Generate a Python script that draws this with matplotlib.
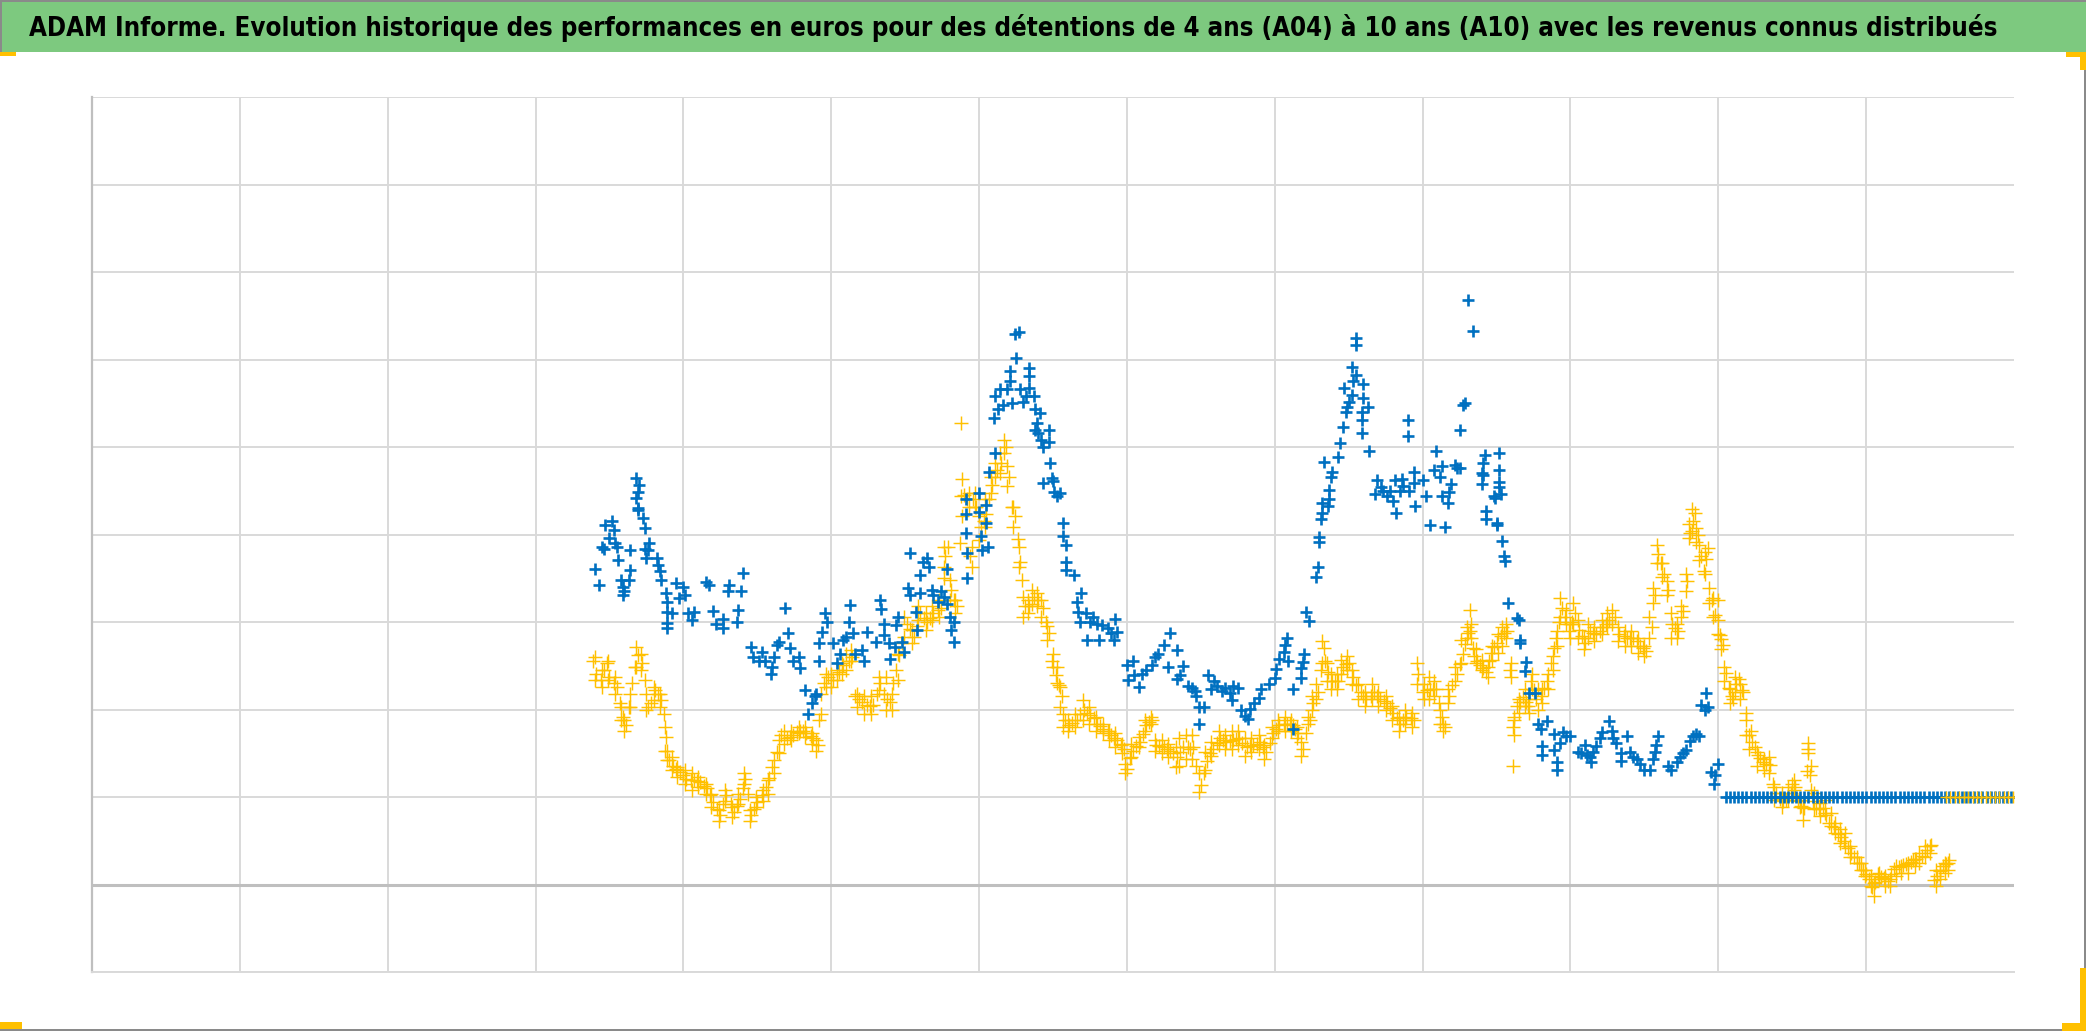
import matplotlib
matplotlib.use("Agg")
import matplotlib.pyplot as plt
from matplotlib import font_manager
from matplotlib.font_manager import FontProperties
from matplotlib.patches import Rectangle
import numpy as np

W, H = 2086, 1031

title = ("ADAM Informe. Evolution historique des performances en euros pour des "
         "détentions de 4 ans (A04) à 10 ans (A10) avec les revenus connus distribués")

# A04 (yellow): (time, performance), time = years from axis start
a04 = [
    (3.39, 2.56), (3.41, 2.41), (3.44, 2.34), (3.46, 2.45), (3.48, 2.53), (3.50, 2.37),
    (3.53, 2.30), (3.55, 2.26), (3.57, 2.07), (3.59, 1.92), (3.61, 1.82), (3.63, 2.03),
    (3.65, 2.30), (3.67, 2.49), (3.69, 2.62), (3.72, 2.53), (3.74, 2.34), (3.76, 2.03),
    (3.78, 2.07), (3.81, 2.22), (3.83, 2.18), (3.85, 2.11), (3.87, 1.95), (3.88, 1.69),
    (3.90, 1.42), (3.93, 1.36), (3.95, 1.32), (3.98, 1.29), (4.00, 1.25), (4.02, 1.21),
    (4.05, 1.20), (4.07, 1.19), (4.09, 1.18), (4.11, 1.17), (4.14, 1.13), (4.16, 1.10),
    (4.18, 1.02), (4.20, 0.94), (4.23, 0.86), (4.25, 0.79), (4.27, 0.92), (4.29, 1.02),
    (4.32, 0.92), (4.34, 0.83), (4.36, 0.90), (4.38, 0.98), (4.40, 1.10), (4.42, 1.21),
    (4.44, 1.04), (4.46, 0.79), (4.48, 0.86), (4.50, 0.94), (4.53, 1.02), (4.56, 1.11),
    (4.58, 1.22), (4.60, 1.34), (4.63, 1.52), (4.66, 1.71), (4.70, 1.67), (4.72, 1.69),
    (4.74, 1.71), (4.77, 1.74), (4.79, 1.76), (4.81, 1.75), (4.83, 1.73), (4.86, 1.70),
    (4.88, 1.67), (4.91, 1.59), (4.92, 1.88), (4.95, 2.30), (4.98, 2.37), (5.01, 2.34),
    (5.05, 2.43), (5.08, 2.51), (5.12, 2.56), (5.14, 2.60), (5.16, 2.16), (5.19, 2.12),
    (5.21, 2.09), (5.24, 2.05), (5.26, 2.04), (5.28, 2.05), (5.31, 2.18), (5.33, 2.30),
    (5.36, 2.18), (5.38, 2.12), (5.40, 2.09), (5.42, 2.30), (5.44, 2.45), (5.46, 2.62),
    (5.48, 2.76), (5.51, 2.98), (5.53, 2.92), (5.56, 2.83), (5.58, 2.95), (5.60, 3.10),
    (5.63, 3.05), (5.65, 3.00), (5.67, 3.05), (5.69, 3.10), (5.72, 3.14), (5.74, 3.16),
    (5.76, 3.50), (5.77, 3.75), (5.79, 3.86), (5.81, 3.37), (5.83, 3.25), (5.85, 3.18),
    (5.87, 3.90), (5.88, 4.44), (5.88, 5.27), (5.90, 4.45), (5.92, 4.40), (5.94, 3.75),
    (5.96, 4.40), (5.98, 4.32), (6.01, 4.09), (6.03, 4.15), (6.05, 4.24), (6.07, 4.40),
    (6.09, 4.57), (6.12, 4.74), (6.15, 4.82), (6.18, 5.00), (6.20, 4.66), (6.22, 4.32),
    (6.24, 4.21), (6.26, 3.95), (6.28, 3.69), (6.29, 3.48), (6.31, 3.18), (6.34, 3.18),
    (6.37, 3.29), (6.40, 3.25), (6.43, 3.16), (6.45, 3.00), (6.47, 2.87), (6.49, 2.56),
    (6.52, 2.39), (6.54, 2.28), (6.56, 2.15), (6.58, 1.88), (6.61, 1.82), (6.63, 1.85),
    (6.66, 1.88), (6.68, 1.95), (6.71, 1.99), (6.73, 1.96), (6.75, 1.94), (6.78, 1.90),
    (6.80, 1.84), (6.82, 1.81), (6.84, 1.78), (6.87, 1.75), (6.89, 1.71), (6.91, 1.68),
    (6.93, 1.65), (6.96, 1.60), (6.98, 1.55), (7.00, 1.32), (7.02, 1.45), (7.04, 1.53),
    (7.06, 1.58), (7.09, 1.63), (7.11, 1.72), (7.13, 1.82), (7.15, 1.86), (7.17, 1.88),
    (7.20, 1.59), (7.22, 1.58), (7.25, 1.57), (7.27, 1.55), (7.29, 1.53), (7.31, 1.50),
    (7.34, 1.46), (7.36, 1.52), (7.38, 1.57), (7.41, 1.57), (7.43, 1.55), (7.45, 1.57),
    (7.47, 1.35), (7.50, 1.14), (7.52, 1.28), (7.54, 1.41), (7.56, 1.50), (7.58, 1.55),
    (7.61, 1.62), (7.63, 1.67), (7.65, 1.65), (7.67, 1.63), (7.70, 1.64), (7.72, 1.65),
    (7.74, 1.66), (7.76, 1.67), (7.78, 1.62), (7.81, 1.57), (7.83, 1.58), (7.85, 1.59),
    (7.88, 1.61), (7.90, 1.63), (7.92, 1.57), (7.94, 1.51), (7.97, 1.62), (7.99, 1.73),
    (8.01, 1.78), (8.03, 1.82), (8.06, 1.83), (8.08, 1.84), (8.10, 1.83), (8.12, 1.82),
    (8.14, 1.78), (8.16, 1.73), (8.19, 1.55), (8.21, 1.73), (8.24, 1.88), (8.26, 2.08),
    (8.29, 2.20), (8.31, 2.45), (8.33, 2.70), (8.34, 2.55), (8.36, 2.43), (8.39, 2.33),
    (8.41, 2.33), (8.43, 2.33), (8.46, 2.49), (8.48, 2.52), (8.50, 2.53), (8.53, 2.37),
    (8.55, 2.28), (8.58, 2.20), (8.60, 2.16), (8.62, 2.12), (8.65, 2.16), (8.67, 2.20),
    (8.69, 2.16), (8.71, 2.12), (8.74, 2.10), (8.76, 2.08), (8.78, 2.02), (8.80, 1.96),
    (8.83, 1.90), (8.85, 1.84), (8.87, 1.88), (8.89, 1.92), (8.92, 1.90), (8.94, 1.88),
    (8.97, 2.41), (9.00, 2.20), (9.03, 2.22), (9.05, 2.24), (9.07, 2.24), (9.09, 2.24),
    (9.11, 2.08), (9.13, 1.92), (9.15, 1.80), (9.18, 2.16), (9.20, 2.28), (9.23, 2.41),
    (9.25, 2.52), (9.27, 2.63), (9.29, 2.75), (9.31, 2.88), (9.32, 2.90), (9.32, 3.14),
    (9.34, 2.70), (9.35, 2.61), (9.37, 2.56), (9.39, 2.51), (9.41, 2.47), (9.43, 2.43),
    (9.45, 2.55), (9.46, 2.65), (9.48, 2.71), (9.50, 2.76), (9.53, 2.84), (9.55, 2.87),
    (9.57, 2.90), (9.59, 2.45), (9.61, 1.80), (9.61, 1.35), (9.62, 1.92), (9.64, 2.04),
    (9.66, 2.09), (9.68, 2.14), (9.70, 2.09), (9.71, 2.04), (9.73, 2.33), (9.75, 2.22),
    (9.77, 2.12), (9.80, 2.16), (9.82, 2.25), (9.84, 2.33), (9.87, 2.53), (9.89, 2.70),
    (9.90, 2.82), (9.92, 3.00), (9.94, 3.16), (9.96, 3.06), (9.99, 2.90), (10.01, 3.00),
    (10.03, 3.10), (10.06, 2.91), (10.08, 2.84), (10.10, 2.76), (10.13, 2.90), (10.15, 2.88),
    (10.17, 2.86), (10.20, 2.90), (10.22, 2.94), (10.24, 2.98), (10.26, 3.02), (10.30, 3.06),
    (10.33, 2.86), (10.36, 2.84), (10.38, 2.82), (10.40, 2.82), (10.42, 2.82), (10.45, 2.78),
    (10.47, 2.73), (10.49, 2.70), (10.51, 2.67), (10.55, 2.94), (10.57, 3.31), (10.59, 3.78),
    (10.61, 3.68), (10.63, 3.55), (10.66, 3.37), (10.69, 2.98), (10.71, 2.93), (10.73, 2.90),
    (10.76, 3.13), (10.79, 3.47), (10.81, 4.02), (10.83, 4.16), (10.84, 4.25), (10.86, 4.00),
    (10.88, 3.75), (10.90, 3.58), (10.92, 3.72), (10.93, 3.85), (10.96, 3.25), (10.98, 3.08),
    (11.00, 3.25), (11.01, 2.85), (11.03, 2.74), (11.05, 2.42), (11.07, 2.25), (11.09, 2.16),
    (11.10, 2.12), (11.12, 2.29), (11.14, 2.35), (11.16, 2.22), (11.17, 2.20), (11.19, 1.88),
    (11.22, 1.75), (11.23, 1.63), (11.25, 1.57), (11.27, 1.48), (11.28, 1.45), (11.30, 1.40),
    (11.32, 1.38), (11.35, 1.37), (11.37, 1.15), (11.39, 1.05), (11.42, 0.98), (11.44, 0.95),
    (11.46, 0.97), (11.49, 1.05), (11.50, 1.15), (11.52, 1.12), (11.54, 0.95), (11.56, 0.90),
    (11.58, 0.88), (11.60, 1.30), (11.61, 1.55), (11.62, 1.25), (11.64, 0.95), (11.66, 0.88),
    (11.68, 0.86), (11.71, 0.88), (11.73, 0.80), (11.75, 0.70), (11.78, 0.66), (11.81, 0.58),
    (11.83, 0.54), (11.85, 0.50), (11.88, 0.42), (11.90, 0.36), (11.92, 0.32), (11.95, 0.25),
    (11.98, 0.17), (12.00, 0.12), (12.02, 0.06), (12.04, -0.03), (12.06, 0.03), (12.08, 0.12),
    (12.10, 0.09), (12.12, 0.07), (12.15, 0.04), (12.17, 0.12), (12.19, 0.18), (12.22, 0.20),
    (12.25, 0.22), (12.27, 0.24), (12.30, 0.26), (12.32, 0.28), (12.34, 0.29), (12.38, 0.33),
    (12.41, 0.40), (12.44, 0.45), (12.46, 0.05), (12.48, 0.10), (12.50, 0.16), (12.52, 0.21),
    (12.54, 0.24), (12.56, 0.28),
]

# A04 daily spread: (time, low, high) of the yellow band between the points above
a04_band = [
    (3.40, 2.34, 2.60), (3.45, 2.26, 2.45), (3.49, 2.34, 2.56), (3.54, 2.18, 2.37),
    (3.58, 1.88, 2.03), (3.60, 1.76, 1.88), (3.64, 2.03, 2.18), (3.68, 2.49, 2.72),
    (3.71, 2.45, 2.64), (3.75, 1.99, 2.18), (3.80, 2.11, 2.26), (3.84, 2.03, 2.18),
    (3.875, 1.53, 1.80), (3.89, 1.42, 1.53), (3.92, 1.31, 1.46), (3.96, 1.23, 1.34),
    (4.01, 1.15, 1.31), (4.06, 1.08, 1.27), (4.10, 1.11, 1.23), (4.15, 1.04, 1.15),
    (4.19, 0.89, 1.04), (4.24, 0.73, 0.85), (4.28, 0.96, 1.08), (4.33, 0.77, 0.89),
    (4.37, 0.92, 1.04), (4.41, 1.15, 1.27), (4.45, 0.73, 0.85), (4.49, 0.89, 1.00),
    (4.54, 0.96, 1.08), (4.57, 1.04, 1.19), (4.61, 1.27, 1.42), (4.645, 1.50, 1.65),
    (4.68, 1.61, 1.76), (4.73, 1.65, 1.76), (4.78, 1.73, 1.80), (4.82, 1.69, 1.80),
    (4.87, 1.61, 1.73), (4.90, 1.53, 1.65), (4.93, 1.95, 2.18), (4.965, 2.26, 2.41),
    (5.00, 2.26, 2.41), (5.04, 2.34, 2.45), (5.07, 2.41, 2.53), (5.10, 2.45, 2.64),
    (5.135, 2.56, 2.68), (5.175, 2.03, 2.18), (5.22, 1.95, 2.15), (5.27, 1.95, 2.15),
    (5.32, 2.22, 2.37), (5.37, 1.99, 2.37), (5.41, 1.99, 2.18), (5.45, 2.34, 2.64),
    (5.495, 2.83, 3.06), (5.545, 2.76, 2.91), (5.59, 3.02, 3.18), (5.64, 2.91, 3.10),
    (5.68, 3.02, 3.18), (5.73, 3.06, 3.25), (5.765, 3.63, 3.86), (5.80, 3.25, 3.48),
    (5.84, 3.10, 3.25), (5.885, 4.21, 4.63), (5.93, 4.32, 4.47), (5.95, 3.63, 3.86),
    (5.97, 4.32, 4.47), (6.00, 3.94, 4.21), (6.04, 4.09, 4.40), (6.08, 4.47, 4.66),
    (6.11, 4.66, 4.82), (6.14, 4.70, 4.93), (6.17, 4.93, 5.08), (6.19, 4.55, 4.78),
    (6.23, 4.09, 4.32), (6.27, 3.63, 3.86), (6.30, 3.06, 3.29), (6.33, 3.10, 3.25),
    (6.36, 3.21, 3.37), (6.39, 3.18, 3.33), (6.42, 3.06, 3.25), (6.46, 2.79, 2.95),
    (6.50, 2.49, 2.64), (6.53, 2.30, 2.49), (6.55, 2.03, 2.26), (6.57, 1.80, 1.95),
    (6.60, 1.76, 1.88), (6.65, 1.80, 1.95), (6.70, 1.88, 2.11), (6.745, 1.84, 2.03),
    (6.79, 1.76, 1.92), (6.835, 1.73, 1.84), (6.88, 1.65, 1.76), (6.92, 1.57, 1.73),
    (6.97, 1.50, 1.61), (6.99, 1.27, 1.38), (7.03, 1.46, 1.61), (7.08, 1.57, 1.69),
    (7.12, 1.76, 1.88), (7.16, 1.84, 1.92), (7.19, 1.53, 1.65), (7.24, 1.50, 1.65),
    (7.28, 1.46, 1.61), (7.33, 1.34, 1.57), (7.35, 1.35, 1.67), (7.40, 1.43, 1.71),
    (7.44, 1.43, 1.71), (7.485, 1.06, 1.27), (7.53, 1.31, 1.51), (7.57, 1.47, 1.63),
    (7.62, 1.59, 1.76), (7.66, 1.55, 1.71), (7.71, 1.55, 1.76), (7.75, 1.59, 1.76),
    (7.80, 1.47, 1.67), (7.84, 1.51, 1.67), (7.89, 1.55, 1.71), (7.93, 1.43, 1.59),
    (7.98, 1.67, 1.80), (8.02, 1.76, 1.88), (8.07, 1.76, 1.92), (8.11, 1.76, 1.88),
    (8.15, 1.67, 1.80), (8.18, 1.47, 1.63), (8.225, 1.84, 1.92), (8.25, 2.00, 2.16),
    (8.28, 2.12, 2.29), (8.32, 2.53, 2.78), (8.35, 2.33, 2.53), (8.38, 2.24, 2.41),
    (8.42, 2.24, 2.41), (8.45, 2.41, 2.57), (8.49, 2.45, 2.61), (8.52, 2.29, 2.45),
    (8.565, 2.12, 2.29), (8.61, 2.04, 2.20), (8.66, 2.12, 2.29), (8.70, 2.04, 2.20),
    (8.75, 2.00, 2.16), (8.79, 1.88, 2.04), (8.84, 1.76, 1.92), (8.88, 1.84, 2.00),
    (8.93, 1.80, 1.96), (8.96, 2.29, 2.53), (9.01, 2.12, 2.29), (9.04, 2.12, 2.37),
    (9.08, 2.16, 2.33), (9.12, 1.84, 2.00), (9.14, 1.76, 1.84), (9.17, 2.08, 2.24),
    (9.22, 2.33, 2.49), (9.26, 2.53, 2.80), (9.30, 2.82, 2.94), (9.33, 2.82, 2.98),
    (9.36, 2.53, 2.69), (9.40, 2.45, 2.57), (9.44, 2.37, 2.49), (9.47, 2.57, 2.73),
    (9.51, 2.65, 2.86), (9.54, 2.73, 2.94), (9.565, 2.82, 2.98), (9.60, 2.37, 2.53),
    (9.615, 1.71, 1.88), (9.65, 1.96, 2.12), (9.69, 2.04, 2.24), (9.72, 1.96, 2.12),
    (9.74, 2.24, 2.41), (9.78, 2.00, 2.24), (9.81, 2.08, 2.24), (9.85, 2.24, 2.41),
    (9.88, 2.45, 2.61), (9.91, 2.73, 2.90), (9.93, 3.06, 3.27), (9.97, 2.98, 3.14),
    (10.00, 2.82, 2.98), (10.02, 2.98, 3.22), (10.05, 2.82, 3.02), (10.09, 2.69, 2.82),
    (10.12, 2.82, 2.98), (10.16, 2.78, 2.94), (10.21, 2.86, 3.02), (10.25, 2.94, 3.10),
    (10.28, 2.98, 3.14), (10.32, 2.78, 2.94), (10.37, 2.73, 2.90), (10.41, 2.73, 2.90),
    (10.46, 2.65, 2.82), (10.50, 2.61, 2.73), (10.53, 2.82, 3.06), (10.56, 3.22, 3.39),
    (10.585, 3.67, 3.88), (10.62, 3.51, 3.67), (10.65, 3.31, 3.47), (10.68, 2.82, 3.10),
    (10.72, 2.82, 2.98), (10.75, 3.06, 3.18), (10.78, 3.35, 3.55), (10.80, 3.96, 4.12),
    (10.82, 4.04, 4.29), (10.85, 3.92, 4.08), (10.87, 3.71, 3.88), (10.91, 3.55, 3.80),
    (10.935, 3.22, 3.39), (10.965, 3.06, 3.27), (11.00, 2.86, 3.02), (11.02, 2.69, 2.81),
    (11.04, 2.33, 2.49), (11.08, 2.08, 2.24), (11.11, 2.20, 2.37), (11.15, 2.12, 2.29),
    (11.185, 1.71, 1.96), (11.21, 1.55, 1.71), (11.26, 1.35, 1.51), (11.31, 1.31, 1.43),
    (11.34, 1.27, 1.46), (11.38, 0.97, 1.12), (11.43, 0.89, 1.05), (11.47, 0.97, 1.12),
    (11.51, 1.08, 1.20), (11.55, 0.89, 0.97), (11.57, 0.74, 0.89), (11.61, 1.50, 1.62),
    (11.63, 1.08, 1.35), (11.65, 0.86, 1.05), (11.69, 0.78, 0.93), (11.72, 0.82, 0.97),
    (11.76, 0.67, 0.82), (11.79, 0.59, 0.70), (11.82, 0.48, 0.63), (11.86, 0.44, 0.59),
    (11.89, 0.32, 0.44), (11.935, 0.25, 0.32), (11.965, 0.17, 0.25), (11.99, 0.10, 0.17),
    (12.03, -0.02, 0.10), (12.05, -0.13, 0.02), (12.09, 0.06, 0.13), (12.13, -0.02, 0.10),
    (12.16, -0.02, 0.06), (12.20, 0.10, 0.21), (12.235, 0.13, 0.21), (12.28, 0.13, 0.25),
    (12.33, 0.21, 0.29), (12.36, 0.25, 0.36), (12.40, 0.32, 0.44), (12.43, 0.36, 0.44),
    (12.47, -0.02, 0.17), (12.50, 0.06, 0.17), (12.53, 0.13, 0.25), (12.555, 0.17, 0.25),
]

# A10 (blue)
a10 = [
    (3.40, 3.61), (3.43, 3.42), (3.45, 3.86), (3.46, 3.83), (3.47, 4.11), (3.50, 3.96),
    (3.52, 4.15), (3.53, 4.05), (3.54, 3.90), (3.55, 3.86), (3.56, 3.71), (3.58, 3.48),
    (3.59, 3.40), (3.59, 3.31), (3.60, 3.35), (3.63, 3.48), (3.64, 3.60), (3.64, 3.82),
    (3.68, 4.65), (3.70, 4.57), (3.69, 4.49), (3.68, 4.42), (3.69, 4.30), (3.69, 4.28),
    (3.73, 4.19), (3.74, 4.07), (3.74, 3.84), (3.76, 3.82), (3.75, 3.73), (3.77, 3.90),
    (3.82, 3.73), (3.83, 3.65), (3.84, 3.58), (3.85, 3.48), (3.88, 3.33), (3.89, 3.23),
    (3.89, 3.12), (3.92, 3.10), (3.89, 2.99), (3.89, 2.93), (3.95, 3.45), (3.97, 3.27),
    (4.00, 3.40), (4.01, 3.31), (4.03, 3.10), (4.06, 3.02), (4.07, 3.12), (4.15, 3.46),
    (4.17, 3.42), (4.20, 3.13), (4.22, 2.98), (4.27, 3.04), (4.27, 2.93), (4.30, 3.35),
    (4.31, 3.42), (4.37, 3.14), (4.36, 3.00), (4.39, 3.36), (4.40, 3.56), (4.46, 2.72),
    (4.47, 2.60), (4.51, 2.55), (4.53, 2.66), (4.55, 2.56), (4.59, 2.41), (4.60, 2.49),
    (4.61, 2.60), (4.63, 2.74), (4.65, 2.77), (4.69, 3.16), (4.71, 2.88), (4.72, 2.70),
    (4.74, 2.56), (4.78, 2.60), (4.79, 2.47), (4.82, 2.22), (4.84, 1.95), (4.87, 2.07),
    (4.89, 2.15), (4.90, 2.18), (4.92, 2.55), (4.92, 2.76), (4.94, 2.89), (4.96, 3.10),
    (4.97, 3.00), (5.01, 2.76), (5.04, 2.53), (5.06, 2.64), (5.08, 2.79), (5.10, 2.83),
    (5.13, 3.19), (5.12, 3.00), (5.15, 2.87), (5.16, 2.64), (5.21, 2.68), (5.22, 2.55),
    (5.24, 2.89), (5.30, 2.77), (5.33, 3.25), (5.34, 3.15), (5.36, 2.98), (5.36, 2.85),
    (5.39, 2.76), (5.40, 2.58), (5.43, 2.72), (5.44, 2.97), (5.45, 3.06), (5.48, 2.77),
    (5.49, 2.66), (5.53, 3.79), (5.52, 3.39), (5.53, 3.31), (5.57, 3.12), (5.58, 2.91),
    (5.60, 3.54), (5.60, 3.33), (5.62, 3.69), (5.65, 3.73), (5.66, 3.63), (5.68, 3.37),
    (5.69, 3.31), (5.72, 3.23), (5.74, 3.35), (5.76, 3.29), (5.78, 3.61), (5.78, 3.21),
    (5.80, 3.06), (5.83, 3.00), (5.81, 2.91), (5.83, 2.77), (5.91, 4.40), (5.91, 4.23),
    (5.92, 3.79), (5.92, 3.50), (5.91, 4.02), (6.00, 4.47), (6.00, 4.26), (6.01, 3.98),
    (6.02, 3.82), (6.05, 4.34), (6.05, 4.13), (6.06, 3.86), (6.07, 4.72), (6.10, 5.33),
    (6.11, 5.58), (6.11, 4.93), (6.13, 5.43), (6.14, 5.66), (6.16, 5.48), (6.19, 5.66),
    (6.21, 5.75), (6.21, 5.87), (6.22, 5.50), (6.24, 6.29), (6.27, 6.31), (6.25, 6.02),
    (6.28, 5.66), (6.30, 5.52), (6.32, 5.58), (6.34, 5.90), (6.34, 5.81), (6.34, 5.68),
    (6.37, 5.58), (6.38, 5.43), (6.39, 5.27), (6.41, 5.39), (6.38, 5.20), (6.40, 5.16),
    (6.42, 5.08), (6.43, 5.00), (6.47, 5.20), (6.47, 5.06), (6.48, 4.82), (6.49, 4.65),
    (6.50, 4.61), (6.43, 4.59), (6.51, 4.49), (6.53, 4.44), (6.55, 4.47), (6.57, 4.13),
    (6.57, 3.98), (6.59, 3.88), (6.59, 3.69), (6.59, 3.60), (6.64, 3.54), (6.66, 3.23),
    (6.67, 3.12), (6.69, 3.33), (6.72, 3.10), (6.68, 3.00), (6.73, 2.79), (6.75, 3.00),
    (6.77, 3.06), (6.80, 2.98), (6.81, 2.79), (6.83, 2.97), (6.87, 2.93), (6.89, 2.87),
    (6.92, 3.04), (6.93, 2.89), (6.91, 2.79), (7.00, 2.51), (7.01, 2.34), (7.04, 2.56),
    (7.05, 2.39), (7.08, 2.26), (7.10, 2.41), (7.13, 2.45), (7.17, 2.51), (7.19, 2.60),
    (7.21, 2.64), (7.25, 2.74), (7.29, 2.87), (7.28, 2.49), (7.34, 2.68), (7.34, 2.35),
    (7.36, 2.40), (7.38, 2.50), (7.41, 2.27), (7.44, 2.25), (7.46, 2.21), (7.47, 2.15),
    (7.49, 2.03), (7.52, 2.03), (7.49, 1.84), (7.55, 2.40), (7.57, 2.23), (7.59, 2.33),
    (7.61, 2.27), (7.64, 2.21), (7.66, 2.25), (7.70, 2.19), (7.71, 2.11), (7.72, 2.27),
    (7.75, 2.25), (7.77, 1.99), (7.80, 1.93), (7.82, 1.89), (7.83, 2.01), (7.86, 2.07),
    (7.89, 2.13), (7.91, 2.23), (7.96, 2.29), (8.00, 2.36), (8.01, 2.46), (8.03, 2.58),
    (8.06, 2.66), (8.07, 2.74), (8.08, 2.82), (8.09, 2.56), (8.12, 2.23), (8.12, 1.78),
    (8.18, 2.48), (8.19, 2.54), (8.20, 2.64), (8.18, 2.36), (8.21, 3.11), (8.23, 3.01),
    (8.28, 3.52), (8.29, 3.63), (8.30, 3.91), (8.30, 3.97), (8.31, 4.18), (8.32, 4.25),
    (8.32, 4.36), (8.33, 4.83), (8.36, 4.33), (8.37, 4.40), (8.37, 4.51), (8.38, 4.66),
    (8.39, 4.72), (8.43, 4.89), (8.44, 5.05), (8.46, 5.23), (8.48, 5.40), (8.49, 5.46),
    (8.50, 5.52), (8.52, 5.60), (8.53, 5.76), (8.52, 5.91), (8.55, 5.82), (8.47, 5.68),
    (8.55, 6.25), (8.55, 6.17), (8.59, 5.40), (8.59, 5.31), (8.59, 5.16), (8.60, 5.56),
    (8.60, 5.72), (8.63, 5.46), (8.64, 4.96), (8.69, 4.62), (8.68, 4.46), (8.72, 4.54),
    (8.73, 4.50), (8.76, 4.44), (8.78, 4.50), (8.80, 4.38), (8.81, 4.62), (8.82, 4.25),
    (8.85, 4.50), (8.86, 4.64), (8.87, 4.56), (8.90, 5.31), (8.90, 5.13), (8.91, 4.50),
    (8.94, 4.72), (8.94, 4.59), (8.95, 4.33), (9.00, 4.62), (9.02, 4.44), (9.05, 4.11),
    (9.09, 4.95), (9.08, 4.74), (9.13, 4.78), (9.12, 4.66), (9.13, 4.44), (9.15, 4.09),
    (9.17, 4.36), (9.18, 4.48), (9.19, 4.58), (9.22, 4.80), (9.23, 4.76), (9.25, 5.20),
    (9.27, 5.48), (9.29, 5.50), (9.31, 6.68), (9.34, 6.33), (9.25, 4.76), (9.42, 4.91),
    (9.41, 4.82), (9.40, 4.70), (9.41, 4.68), (9.40, 4.58), (9.52, 4.93), (9.52, 4.74),
    (9.52, 4.60), (9.52, 4.54), (9.53, 4.46), (9.48, 4.44), (9.49, 4.42), (9.43, 4.27),
    (9.43, 4.18), (9.50, 4.13), (9.50, 4.11), (9.54, 3.93), (9.55, 3.76), (9.56, 3.70),
    (9.58, 3.22), (9.64, 3.05), (9.65, 3.02), (9.66, 2.80), (9.66, 2.76), (9.70, 2.54),
    (9.69, 2.44), (9.72, 2.19), (9.76, 2.19), (9.78, 1.84), (9.80, 1.78), (9.84, 1.87),
    (9.81, 1.58), (9.81, 1.48), (9.89, 1.72), (9.91, 1.40), (9.91, 1.31), (9.89, 1.54),
    (9.93, 1.62), (9.95, 1.74), (9.97, 1.70), (10.00, 1.70), (10.05, 1.52), (10.07, 1.50),
    (10.10, 1.60), (10.11, 1.48), (10.13, 1.46), (10.14, 1.40), (10.15, 1.52), (10.17, 1.58),
    (10.20, 1.68), (10.21, 1.74), (10.26, 1.87), (10.28, 1.76), (10.29, 1.68), (10.31, 1.62),
    (10.34, 1.50), (10.34, 1.41), (10.38, 1.70), (10.40, 1.52), (10.42, 1.46), (10.45, 1.44),
    (10.47, 1.38), (10.50, 1.31), (10.54, 1.31), (10.56, 1.44), (10.57, 1.52), (10.58, 1.60),
    (10.59, 1.70), (10.66, 1.35), (10.68, 1.31), (10.72, 1.40), (10.74, 1.46), (10.76, 1.50),
    (10.78, 1.54), (10.81, 1.64), (10.83, 1.70), (10.85, 1.72), (10.87, 1.70), (10.88, 2.05),
    (10.91, 1.99), (10.92, 2.19), (10.93, 2.03), (10.95, 1.29), (10.97, 1.15), (10.98, 1.25),
    (11.00, 1.38),
]

# after the last known values both series sit on a constant level
flat_level = 1.0
a10_flat_start = 11.05
a04_flat_start = 12.54
flat_end = 13.0
a10_flat_step = 0.028
a04_flat_step = 0.03

a04_color = "#FFC000"
a10_color = "#0070C0"
grid_color = "#D9D9D9"


def px_rect(fig, x0, y0, x1, y1, color):
    # rectangle given in image pixels (origin top left)
    fig.patches.append(Rectangle((x0 / W, 1 - y1 / H), (x1 - x0) / W, (y1 - y0) / H,
                                 transform=fig.transFigure, facecolor=color,
                                 edgecolor="none", zorder=5))


def title_font():
    # prefer a narrow bold face, like the Calibri of the original
    wanted = ["Liberation Sans Narrow", "DejaVu Sans", "Noto Sans", "Open Sans", "Roboto"]
    for fam in wanted:
        for f in font_manager.fontManager.ttflist:
            if f.name != fam or f.style != "normal":
                continue
            w = f.weight if isinstance(f.weight, int) else {"bold": 700}.get(f.weight, 400)
            if w >= 600 and f.stretch in ("condensed", "semi-condensed", "extra-condensed"):
                return FontProperties(fname=f.fname)
    return FontProperties(family="DejaVu Sans", weight="bold")


fig = plt.figure(figsize=(W / 100, H / 100), dpi=100)
fig.patch.set_facecolor("white")

# green title band
px_rect(fig, 0, 0, W, 52, "#7DC97F")
px_rect(fig, 0, 0, W, 1.5, "#8A8A8A")
px_rect(fig, 0, 0, 1.5, 52, "#8A8A8A")

fp = title_font()
t = fig.text(29 / W, 1 - 28 / H, title, ha="left", va="center", fontproperties=fp,
             color="black", zorder=6)
t.set_fontsize(20)
fig.canvas.draw()
width = t.get_window_extent().width
t.set_fontsize(min(20 * 1965 / width, 23))

# Excel selection handles and frame
px_rect(fig, 0, 52, 16, 56, a04_color)
px_rect(fig, 2066, 52, W, 57, a04_color)
px_rect(fig, 2080, 52, W, 70, a04_color)
px_rect(fig, 0, 1022, 22, H, a04_color)
px_rect(fig, 2080, 968, W, H, a04_color)
px_rect(fig, 2062, 1023, W, H, a04_color)
px_rect(fig, 0, H - 2, 2062, H, "#8A8A8A")
px_rect(fig, W - 2, 70, W, 968, "#8A8A8A")

ax = fig.add_axes([92 / W, 1 - 972 / H, (2014 - 92) / W, (972 - 97) / H])
ax.set_xlim(0, 13)
ax.set_ylim(-1, 9)
ax.set_xticks(range(1, 13))
ax.set_yticks(range(-1, 10))
ax.grid(True, color=grid_color, linewidth=1.4, zorder=0)
ax.set_axisbelow(True)
ax.tick_params(length=0, labelbottom=False, labelleft=False)
for side in ["top", "right"]:
    ax.spines[side].set_visible(False)
ax.spines["left"].set_color("#BFBFBF")
ax.spines["left"].set_linewidth(1.6)
ax.spines["bottom"].set_color(grid_color)
ax.spines["bottom"].set_linewidth(1.4)
ax.axhline(0, color="#BFBFBF", linewidth=2.2, zorder=1)

a04_x, a04_y = np.array(a04).T
band_x, band_lo, band_hi = np.array(a04_band).T
a10_x, a10_y = np.array(a10).T
a10_flat_x = np.arange(a10_flat_start, flat_end, a10_flat_step)
a04_flat_x = np.arange(a04_flat_start, flat_end, a04_flat_step)

yellow_style = dict(linestyle="none", marker="+", markersize=10.5, markeredgewidth=1.05,
                    color=a04_color, zorder=3)
blue_style = dict(linestyle="none", marker="+", markersize=8, markeredgewidth=1.9,
                  color=a10_color, zorder=4)

ax.plot(a04_x, a04_y, **yellow_style)
ax.plot(band_x, band_lo, **yellow_style)
ax.plot(band_x, band_hi, **yellow_style)
ax.plot(a10_x, a10_y, **blue_style)
ax.plot(a10_flat_x, np.full(len(a10_flat_x), flat_level), **blue_style)
ax.plot(a04_flat_x, np.full(len(a04_flat_x), flat_level),
        **dict(yellow_style, zorder=4.5, markersize=9))

fig.savefig("out.png", dpi=100)
